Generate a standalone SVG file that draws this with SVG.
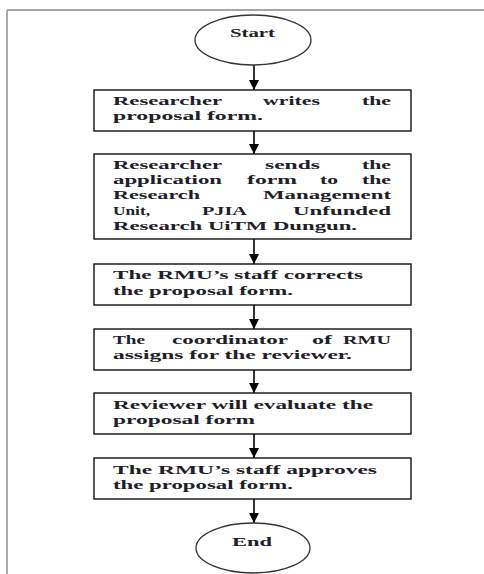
<svg xmlns="http://www.w3.org/2000/svg" width="484" height="574" viewBox="0 0 484 574">
<defs>
<style>
.box{fill:#fff;stroke:#111;stroke-width:1.4}
.term{fill:#fff;stroke:#333;stroke-width:1.3}
.t{font-family:"Liberation Serif","Times New Roman",serif;font-size:12.5px;font-weight:bold;fill:#202028}
.c{stroke:#000;stroke-width:1.6;fill:none;marker-end:url(#ah)}
</style>
<marker id="ah" markerUnits="userSpaceOnUse" markerWidth="12" markerHeight="10" refX="10" refY="5" orient="auto">
<path d="M0,0 L10,5 L0,10 Z" fill="#000"/>
</marker>
</defs>
<rect x="0" y="0" width="484" height="574" fill="#fff"/>
<line x1="7" y1="10" x2="484" y2="10" stroke="#888" stroke-width="1.5"/>
<line x1="7" y1="10" x2="7" y2="574" stroke="#aaa" stroke-width="2"/>

<g id="connectors">
<line class="c" x1="254" y1="65" x2="254" y2="90"/>
<line class="c" x1="254" y1="131" x2="254" y2="154"/>
<line class="c" x1="254" y1="239" x2="254" y2="264"/>
<line class="c" x1="254" y1="305" x2="254" y2="329"/>
<line class="c" x1="254" y1="370" x2="254" y2="393"/>
<line class="c" x1="254" y1="434" x2="254" y2="458"/>
<line class="c" x1="254" y1="499" x2="254" y2="523"/>
</g>

<g id="start">
<ellipse class="term" cx="253" cy="40" rx="58" ry="25"/>
<text class="t" x="230" y="37" textLength="45" lengthAdjust="spacingAndGlyphs">Start</text>
</g>

<g id="step1">
<rect class="box" x="94" y="90" width="317" height="41"/>
<text class="t" y="105"><tspan x="113" textLength="109" lengthAdjust="spacingAndGlyphs">Researcher</tspan><tspan x="263" textLength="57" lengthAdjust="spacingAndGlyphs">writes</tspan><tspan x="362" textLength="29" lengthAdjust="spacingAndGlyphs">the</tspan></text>
<text class="t" x="113" y="120" textLength="150" lengthAdjust="spacingAndGlyphs">proposal form.</text>
</g>

<g id="step2">
<rect class="box" x="94" y="154" width="317" height="85"/>
<text class="t" y="169"><tspan x="113" textLength="109" lengthAdjust="spacingAndGlyphs">Researcher</tspan><tspan x="265" textLength="55" lengthAdjust="spacingAndGlyphs">sends</tspan><tspan x="362" textLength="29" lengthAdjust="spacingAndGlyphs">the</tspan></text>
<text class="t" y="184"><tspan x="113" textLength="109" lengthAdjust="spacingAndGlyphs">application</tspan><tspan x="247" textLength="50" lengthAdjust="spacingAndGlyphs">form</tspan><tspan x="320" textLength="18" lengthAdjust="spacingAndGlyphs">to</tspan><tspan x="362" textLength="29" lengthAdjust="spacingAndGlyphs">the</tspan></text>
<text class="t" y="199"><tspan x="113" textLength="87" lengthAdjust="spacingAndGlyphs">Research</tspan><tspan x="263" textLength="128" lengthAdjust="spacingAndGlyphs">Management</tspan></text>
<text class="t" y="215"><tspan x="113" textLength="37" lengthAdjust="spacingAndGlyphs">Unit,</tspan><tspan x="202" textLength="45" lengthAdjust="spacingAndGlyphs">PJIA</tspan><tspan x="293" textLength="98" lengthAdjust="spacingAndGlyphs">Unfunded</tspan></text>
<text class="t" x="113" y="230" textLength="244" lengthAdjust="spacingAndGlyphs">Research UiTM Dungun.</text>
</g>

<g id="step3">
<rect class="box" x="94" y="264" width="317" height="41"/>
<text class="t" x="113" y="279" textLength="250" lengthAdjust="spacingAndGlyphs">The RMU’s  staff corrects</text>
<text class="t" x="113" y="295" textLength="180" lengthAdjust="spacingAndGlyphs">the proposal form.</text>
</g>

<g id="step4">
<rect class="box" x="94" y="329" width="317" height="41"/>
<text class="t" y="344"><tspan x="113" textLength="32" lengthAdjust="spacingAndGlyphs">The</tspan><tspan x="172" textLength="116" lengthAdjust="spacingAndGlyphs">coordinator</tspan><tspan x="312" textLength="20" lengthAdjust="spacingAndGlyphs">of</tspan><tspan x="343" textLength="48" lengthAdjust="spacingAndGlyphs">RMU</tspan></text>
<text class="t" x="113" y="359" textLength="239" lengthAdjust="spacingAndGlyphs">assigns for the reviewer.</text>
</g>

<g id="step5">
<rect class="box" x="94" y="393" width="317" height="41"/>
<text class="t" x="113" y="409" textLength="260" lengthAdjust="spacingAndGlyphs">Reviewer will  evaluate the</text>
<text class="t" x="113" y="424" textLength="142" lengthAdjust="spacingAndGlyphs">proposal form</text>
</g>

<g id="step6">
<rect class="box" x="94" y="458" width="317" height="41"/>
<text class="t" x="113" y="474" textLength="264" lengthAdjust="spacingAndGlyphs">The RMU’s  staff approves</text>
<text class="t" x="113" y="489" textLength="180" lengthAdjust="spacingAndGlyphs">the proposal form.</text>
</g>

<g id="end">
<ellipse class="term" cx="253" cy="548" rx="57" ry="25"/>
<text class="t" x="232" y="546" textLength="40" lengthAdjust="spacingAndGlyphs">End</text>
</g>
</svg>
